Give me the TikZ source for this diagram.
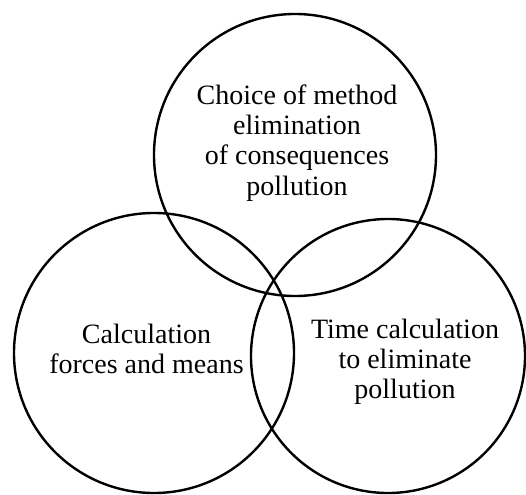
\documentclass[tikz,border=0pt]{standalone}
\usepackage{fontspec}
\setmainfont{Liberation Serif}
\begin{document}
\begin{tikzpicture}[x=1pt,y=-1pt,
  ring/.style={draw, circle, line width=2.4pt, inner sep=0pt},
  label/.style={align=center, anchor=base, inner sep=0pt,
    font=\fontsize{28}{30}\selectfont}]
\useasboundingbox (0,0) rectangle (526,494);
% three overlapping circles
\node[ring, minimum size=282pt] (top) at (295,155) {};
\node[ring, minimum size=280pt] (left) at (154,353) {};
\node[ring, minimum size=274pt] (right) at (388,356) {};
% captions (anchored at the baseline of the last line)
\node[label] (toptext) at (297,195) {Choice of method\\elimination\\of consequences\\pollution};
\node[label] (lefttext) at (146.5,373) {Calculation\\forces and means};
\node[label] (righttext) at (405,398) {Time calculation\\to eliminate\\pollution};
\end{tikzpicture}
\end{document}
